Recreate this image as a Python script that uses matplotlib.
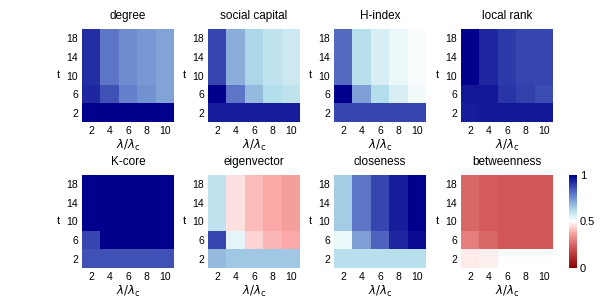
import numpy as np
import matplotlib
matplotlib.use("Agg")
import matplotlib.pyplot as plt
from matplotlib.colors import LinearSegmentedColormap

plt.rcParams['font.family'] = ['Liberation Sans', 'DejaVu Sans']

lam = [2, 4, 6, 8, 10]          # lambda / lambda_c
tt = [2, 6, 10, 14, 18]         # t

titles = ["degree", "social capital", "H-index", "local rank",
          "K-core", "eigenvector", "closeness", "betweenness"]

# rows: t = 2, 6, 10, 14, 18 ; cols: lambda/lambda_c = 2..10
degree = [[1.00, 1.00, 1.00, 1.00, 1.00],
          [0.93, 0.86, 0.78, 0.75, 0.72],
          [0.92, 0.80, 0.76, 0.74, 0.72],
          [0.92, 0.80, 0.76, 0.74, 0.72],
          [0.92, 0.80, 0.76, 0.74, 0.72]]
social = [[0.95, 0.95, 0.95, 0.95, 0.95],
          [1.00, 0.80, 0.68, 0.62, 0.60],
          [0.88, 0.70, 0.63, 0.60, 0.58],
          [0.88, 0.70, 0.63, 0.60, 0.58],
          [0.88, 0.70, 0.63, 0.60, 0.58]]
hindex = [[0.88, 0.88, 0.88, 0.88, 0.88],
          [1.00, 0.73, 0.62, 0.56, 0.52],
          [0.82, 0.61, 0.56, 0.53, 0.51],
          [0.82, 0.61, 0.56, 0.53, 0.51],
          [0.82, 0.61, 0.56, 0.53, 0.51]]
localrank = [[0.95, 0.96, 0.96, 0.96, 0.96],
             [0.96, 0.96, 0.91, 0.89, 0.87],
             [1.00, 0.93, 0.90, 0.88, 0.88],
             [1.00, 0.93, 0.90, 0.88, 0.88],
             [1.00, 0.93, 0.90, 0.88, 0.88]]
kcore = [[0.86, 0.86, 0.86, 0.86, 0.86],
         [0.88, 1.00, 1.00, 1.00, 1.00],
         [1.00, 1.00, 1.00, 1.00, 1.00],
         [1.00, 1.00, 1.00, 1.00, 1.00],
         [1.00, 1.00, 1.00, 1.00, 1.00]]
eigen = [[0.68, 0.66, 0.66, 0.66, 0.66],
         [0.88, 0.54, 0.44, 0.40, 0.38],
         [0.60, 0.46, 0.41, 0.38, 0.36],
         [0.60, 0.46, 0.41, 0.38, 0.36],
         [0.60, 0.46, 0.41, 0.38, 0.36]]
closeness = [[0.61, 0.61, 0.61, 0.61, 0.61],
             [0.53, 0.73, 0.83, 0.93, 0.98],
             [0.65, 0.80, 0.88, 0.95, 1.00],
             [0.65, 0.80, 0.88, 0.95, 1.00],
             [0.65, 0.80, 0.88, 0.95, 1.00]]
betw = [[0.47, 0.48, 0.50, 0.50, 0.50],
        [0.30, 0.25, 0.22, 0.22, 0.22],
        [0.25, 0.23, 0.22, 0.22, 0.22],
        [0.25, 0.23, 0.22, 0.22, 0.22],
        [0.25, 0.23, 0.22, 0.22, 0.22]]

data = [degree, social, hindex, localrank, kcore, eigen, closeness, betw]

cmap = LinearSegmentedColormap.from_list("rwb", [
    (0.0, (0.55, 0.0, 0.0)),
    (0.22, (0.82, 0.34, 0.34)),
    (0.38, (0.98, 0.66, 0.65)),
    (0.5, (1.0, 1.0, 1.0)),
    (0.62, (0.70, 0.87, 0.92)),
    (0.8, (0.36, 0.46, 0.78)),
    (1.0, (0.0, 0.0, 0.55))])

xe = np.arange(1, 12, 2)
ye = np.arange(0, 21, 4)

fig = plt.figure(figsize=(6.14, 3.08), dpi=100)
W, H = 614.0, 308.0
lefts = [82, 208, 334, 461]
tops = [29, 175]
aw, ah = 92, 93

for k in range(8):
    r, c = divmod(k, 4)
    ax = fig.add_axes([lefts[c] / W, 1 - (tops[r] + ah) / H, aw / W, ah / H])
    m = ax.pcolormesh(xe, ye, np.array(data[k]), cmap=cmap, vmin=0, vmax=1)
    ax.set_xticks(lam)
    ax.set_yticks(tt)
    ax.tick_params(length=0, labelsize=7.5, pad=3)
    for s in ax.spines.values():
        s.set_visible(False)
    ax.set_title(titles[k], fontsize=8.5, pad=7)
    ax.set_xlabel(r"$\lambda/\lambda_\mathrm{c}$", fontsize=8.5, labelpad=1)
    ax.set_ylabel("t", fontsize=8, rotation=0, labelpad=2, va="center")
    ax.yaxis.set_label_coords(-0.26, 0.5)

cax = fig.add_axes([569 / W, 1 - 268 / H, 8 / W, 93 / H])
cb = fig.colorbar(m, cax=cax, ticks=[0, 0.5, 1])
cb.ax.set_yticklabels(["0", "0.5", "1"])
cb.ax.tick_params(length=0, labelsize=8, pad=2)
cb.outline.set_visible(False)

fig.savefig("out.png", dpi=100)
